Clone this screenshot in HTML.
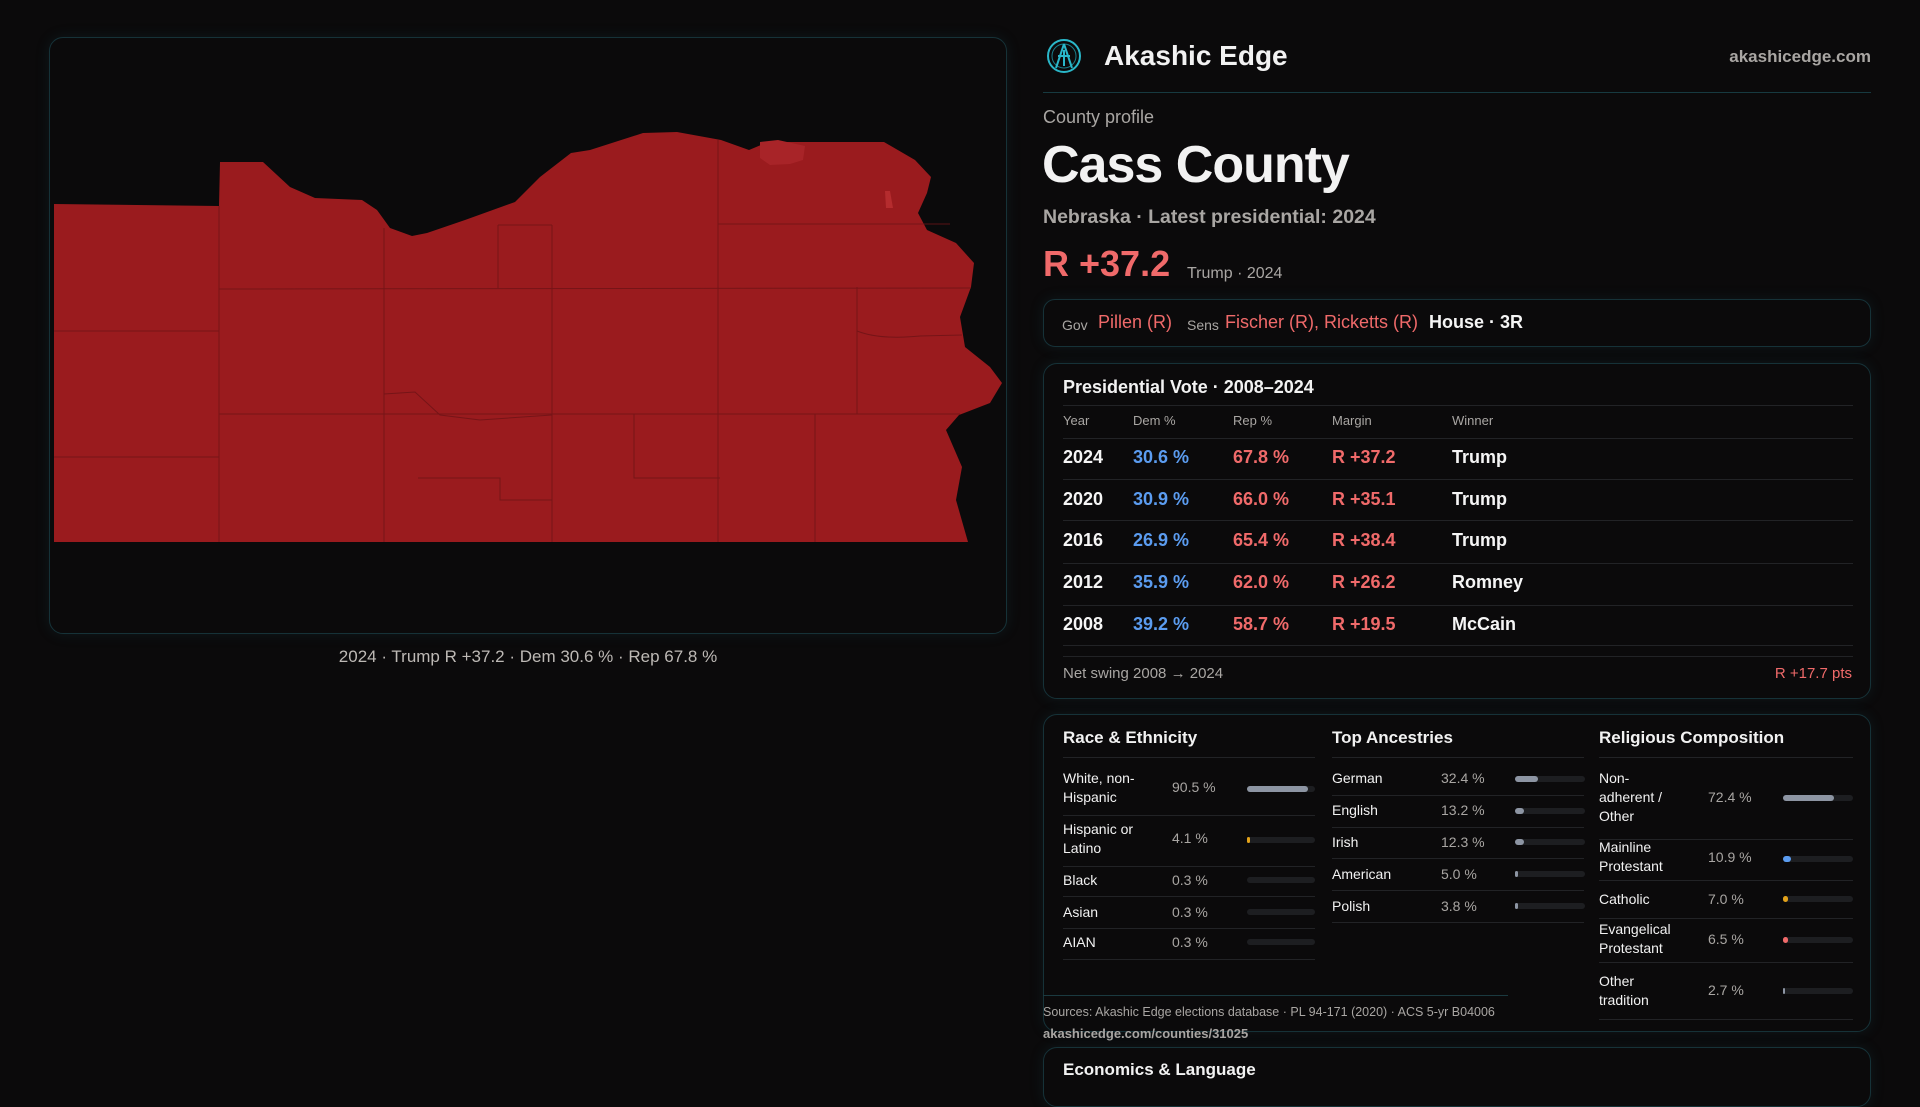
<!DOCTYPE html>
<html><head><meta charset="utf-8"><style>
*{margin:0;padding:0;box-sizing:border-box}
body{width:1920px;height:1080px;background:#0b0a0b;font-family:"Liberation Sans",sans-serif;color:#f2f2f2;position:relative;overflow:hidden}
.a{position:absolute;white-space:nowrap;line-height:1}
.box{position:absolute;border:1px solid #163238;border-radius:14px;background:#0b0a0b;box-shadow:0 0 14px rgba(30,90,100,0.18)}
.ln{position:absolute;height:1px;background:#222326}
.g{color:#a9a6a3}.r{color:#f06a6a}.b{color:#5b9cf0}.w{color:#f5f5f5}
.bar{position:absolute;height:6px;border-radius:3px;background:#1d1e21}
.bar i{position:absolute;left:0;top:0;height:6px;border-radius:3px}
</style></head><body>
<div class="box" style="left:49px;top:37px;width:958px;height:597px"></div>
<svg class="a" style="left:0;top:0" width="1020" height="560">
<path fill="#9a1b1e" d="M54 204 L219 206 L220 162 L263 162 L290 187 L315 198 L362 200 L377 210 L390 228 L412 236 L427 233 L465 220 L515 202 L540 177 L571 153 L590 150 L643 133 L677 132 L721 140 L749 150 L768 142 L884 142 L915 160 L931 177 L927 193 L918 213 L927 230 L956 243 L974 263 L971 287 L960 317 L965 347 L990 367 L1002 383 L990 403 L959 415 L946 430 L962 467 L956 500 L968 542 L54 542 Z"/>
<path fill="#a82428" d="M760 142 L778 140 L805 146 L803 160 L790 164 L770 165 L760 158 Z"/>
<path fill="#b52c2e" d="M885 191 L890 191 L893 208 L886 208 Z"/>
<g stroke="#6e1316" stroke-width="1" fill="none" opacity="0.8">
<path d="M219 206 L219 542 M384 228 L384 542 M552 225 L552 542 M718 140 L718 542 M857 287 L857 414 M815 414 L815 542"/>
<path d="M219 289 L971 288 M54 331 L219 331 M54 457 L219 457 M219 414 L960 414 M857 331 Q880 340 920 336 L962 335"/>
<path d="M498 225 L552 225 M498 225 L498 288 M718 224 L950 224 M384 394 L415 392 L440 415 L480 420 L552 415"/>
<path d="M634 414 L634 478 L720 478 M418 478 L500 478 L500 500 L552 500 L552 478"/>
</g>
</svg>
<div class="a" style="left:0;width:1056px;top:648px;text-align:center;font-size:17px;color:#bdb9b5">2024 · Trump R +37.2 · Dem 30.6 % · Rep 67.8 %</div>

<svg class="a" style="left:1046px;top:38px" width="36" height="36" viewBox="0 0 36 36"><circle cx="18" cy="18" r="16" fill="none" stroke="#2ab7c9" stroke-width="2"/><circle cx="18" cy="18" r="12" fill="none" stroke="#1a7d8a" stroke-width="1"/><path d="M18 6 L10 30 M18 6 L26 30 M12 18 L24 18 M18 12 L18 28" stroke="#2ab7c9" stroke-width="2" fill="none"/></svg>
<div class="a" style="left:1104px;top:42px;font-size:28px;font-weight:bold">Akashic Edge</div>
<div class="a g" style="right:49px;top:48px;font-size:17px;font-weight:bold">akashicedge.com</div>
<div class="ln" style="left:1043px;top:92px;width:828px;background:#173a40"></div>
<div class="a g" style="left:1043px;top:108px;font-size:18px">County profile</div>
<div class="a" style="left:1042px;top:139px;font-size:52px;font-weight:bold;letter-spacing:-1px">Cass County</div>
<div class="a g" style="left:1043px;top:208px;font-size:19.5px;font-weight:bold">Nebraska · Latest presidential: 2024</div>
<div class="a r" style="left:1043px;top:246px;font-size:36px;font-weight:bold">R +37.2</div>
<div class="a g" style="left:1187px;top:266px;font-size:16px">Trump · 2024</div>

<div class="box" style="left:1043px;top:299px;width:828px;height:48px;border-radius:12px"></div>
<div class="a g" style="left:1062px;top:318px;font-size:14px">Gov</div>
<div class="a r" style="left:1098px;top:313px;font-size:18px">Pillen (R)</div>
<div class="a g" style="left:1187px;top:318px;font-size:14px">Sens</div>
<div class="a r" style="left:1225px;top:313px;font-size:18px">Fischer (R), Ricketts (R)</div>
<div class="a w" style="left:1429px;top:313px;font-size:18px;font-weight:bold">House · 3R</div>

<div class="box" style="left:1043px;top:363px;width:828px;height:336px"></div>
<div class="a" style="left:1063px;top:378px;font-size:18px;font-weight:bold">Presidential Vote · 2008–2024</div>
<div class="ln" style="left:1063px;top:405px;width:790px"></div>
<div class="a g" style="left:1063px;top:414px;font-size:13px">Year</div>
<div class="a g" style="left:1133px;top:414px;font-size:13px">Dem %</div>
<div class="a g" style="left:1233px;top:414px;font-size:13px">Rep %</div>
<div class="a g" style="left:1332px;top:414px;font-size:13px">Margin</div>
<div class="a g" style="left:1452px;top:414px;font-size:13px">Winner</div>
<div class="ln" style="left:1063px;top:438px;width:790px"></div>
<div class="ln" style="left:1063px;top:479px;width:790px"></div>
<div class="ln" style="left:1063px;top:520px;width:790px"></div>
<div class="ln" style="left:1063px;top:563px;width:790px"></div>
<div class="ln" style="left:1063px;top:605px;width:790px"></div>
<div class="ln" style="left:1063px;top:645px;width:790px"></div>
<div class="ln" style="left:1063px;top:656px;width:790px"></div>
<div style="position:absolute;left:1063px;top:448px;font-size:18px;font-weight:bold;line-height:1">
<div class="a w" style="top:0">2024</div><div class="a b" style="left:70px">30.6 %</div><div class="a r" style="left:170px">67.8 %</div><div class="a r" style="left:269px">R +37.2</div><div class="a w" style="left:389px">Trump</div>
<div class="a w" style="top:42px">2020</div><div class="a b" style="left:70px;top:42px">30.9 %</div><div class="a r" style="left:170px;top:42px">66.0 %</div><div class="a r" style="left:269px;top:42px">R +35.1</div><div class="a w" style="left:389px;top:42px">Trump</div>
<div class="a w" style="top:83px">2016</div><div class="a b" style="left:70px;top:83px">26.9 %</div><div class="a r" style="left:170px;top:83px">65.4 %</div><div class="a r" style="left:269px;top:83px">R +38.4</div><div class="a w" style="left:389px;top:83px">Trump</div>
<div class="a w" style="top:125px">2012</div><div class="a b" style="left:70px;top:125px">35.9 %</div><div class="a r" style="left:170px;top:125px">62.0 %</div><div class="a r" style="left:269px;top:125px">R +26.2</div><div class="a w" style="left:389px;top:125px">Romney</div>
<div class="a w" style="top:167px">2008</div><div class="a b" style="left:70px;top:167px">39.2 %</div><div class="a r" style="left:170px;top:167px">58.7 %</div><div class="a r" style="left:269px;top:167px">R +19.5</div><div class="a w" style="left:389px;top:167px">McCain</div>
</div>
<div class="a g" style="left:1063px;top:666px;font-size:15px">Net swing 2008 → 2024</div>
<div class="a r" style="right:68px;top:666px;font-size:15px">R +17.7 pts</div>

<div class="box" style="left:1043px;top:714px;width:828px;height:318px"></div>
<div class="a" style="left:1063px;top:729px;font-size:17px;font-weight:bold">Race &amp; Ethnicity</div>
<div class="a" style="left:1332px;top:729px;font-size:17px;font-weight:bold">Top Ancestries</div>
<div class="a" style="left:1599px;top:729px;font-size:17px;font-weight:bold">Religious Composition</div>
<div class="ln" style="left:1063px;top:757px;width:252px"></div>
<div class="ln" style="left:1332px;top:757px;width:252px"></div>
<div class="ln" style="left:1599px;top:757px;width:254px"></div>

<div style="position:absolute;left:0;top:0;font-size:14px;line-height:19px">
<div class="a" style="left:1063px;top:769px;line-height:19px">White, non-<br>Hispanic</div><div class="a g" style="left:1172px;top:780px">90.5 %</div><div class="bar" style="left:1247px;top:786px;width:68px"><i style="width:61px;background:#8d95a3"></i></div>
<div class="ln" style="left:1063px;top:815px;width:252px"></div>
<div class="a" style="left:1063px;top:820px;line-height:19px">Hispanic or<br>Latino</div><div class="a g" style="left:1172px;top:831px">4.1 %</div><div class="bar" style="left:1247px;top:837px;width:68px"><i style="width:3px;background:#e3a21a"></i></div>
<div class="ln" style="left:1063px;top:866px;width:252px"></div>
<div class="a" style="left:1063px;top:873px">Black</div><div class="a g" style="left:1172px;top:873px">0.3 %</div><div class="bar" style="left:1247px;top:877px;width:68px"></div>
<div class="ln" style="left:1063px;top:896px;width:252px"></div>
<div class="a" style="left:1063px;top:905px">Asian</div><div class="a g" style="left:1172px;top:905px">0.3 %</div><div class="bar" style="left:1247px;top:909px;width:68px"></div>
<div class="ln" style="left:1063px;top:928px;width:252px"></div>
<div class="a" style="left:1063px;top:935px">AIAN</div><div class="a g" style="left:1172px;top:935px">0.3 %</div><div class="bar" style="left:1247px;top:939px;width:68px"></div>
<div class="ln" style="left:1063px;top:959px;width:252px"></div>

<div class="a" style="left:1332px;top:771px">German</div><div class="a g" style="left:1441px;top:771px">32.4 %</div><div class="bar" style="left:1515px;top:776px;width:70px"><i style="width:23px;background:#8d95a3"></i></div>
<div class="ln" style="left:1332px;top:795px;width:252px"></div>
<div class="a" style="left:1332px;top:803px">English</div><div class="a g" style="left:1441px;top:803px">13.2 %</div><div class="bar" style="left:1515px;top:808px;width:70px"><i style="width:9px;background:#8d95a3"></i></div>
<div class="ln" style="left:1332px;top:827px;width:252px"></div>
<div class="a" style="left:1332px;top:835px">Irish</div><div class="a g" style="left:1441px;top:835px">12.3 %</div><div class="bar" style="left:1515px;top:839px;width:70px"><i style="width:9px;background:#8d95a3"></i></div>
<div class="ln" style="left:1332px;top:858px;width:252px"></div>
<div class="a" style="left:1332px;top:867px">American</div><div class="a g" style="left:1441px;top:867px">5.0 %</div><div class="bar" style="left:1515px;top:871px;width:70px"><i style="width:3px;background:#8d95a3"></i></div>
<div class="ln" style="left:1332px;top:890px;width:252px"></div>
<div class="a" style="left:1332px;top:899px">Polish</div><div class="a g" style="left:1441px;top:899px">3.8 %</div><div class="bar" style="left:1515px;top:903px;width:70px"><i style="width:3px;background:#8d95a3"></i></div>
<div class="ln" style="left:1332px;top:922px;width:252px"></div>

<div class="a" style="left:1599px;top:769px;line-height:19px">Non-<br>adherent /<br>Other</div><div class="a g" style="left:1708px;top:790px">72.4 %</div><div class="bar" style="left:1783px;top:795px;width:70px"><i style="width:51px;background:#8d95a3"></i></div>
<div class="ln" style="left:1599px;top:839px;width:254px"></div>
<div class="a" style="left:1599px;top:838px;line-height:19px">Mainline<br>Protestant</div><div class="a g" style="left:1708px;top:850px">10.9 %</div><div class="bar" style="left:1783px;top:856px;width:70px"><i style="width:8px;background:#5b9cf0"></i></div>
<div class="ln" style="left:1599px;top:880px;width:254px"></div>
<div class="a" style="left:1599px;top:892px">Catholic</div><div class="a g" style="left:1708px;top:892px">7.0 %</div><div class="bar" style="left:1783px;top:896px;width:70px"><i style="width:5px;background:#e3a21a"></i></div>
<div class="ln" style="left:1599px;top:918px;width:254px"></div>
<div class="a" style="left:1599px;top:920px;line-height:19px">Evangelical<br>Protestant</div><div class="a g" style="left:1708px;top:932px">6.5 %</div><div class="bar" style="left:1783px;top:937px;width:70px"><i style="width:5px;background:#f06a6a"></i></div>
<div class="ln" style="left:1599px;top:962px;width:254px"></div>
<div class="a" style="left:1599px;top:972px;line-height:19px">Other<br>tradition</div><div class="a g" style="left:1708px;top:983px">2.7 %</div><div class="bar" style="left:1783px;top:988px;width:70px"><i style="width:2px;background:#8d95a3"></i></div>
<div class="ln" style="left:1599px;top:1019px;width:254px"></div>
</div>
<div class="ln" style="left:1043px;top:995px;width:465px;background:#1b3a40"></div>
<div class="a g" style="left:1043px;top:1006px;font-size:12.5px">Sources: Akashic Edge elections database · PL 94-171 (2020) · ACS 5-yr B04006</div>
<div class="a g" style="left:1043px;top:1027px;font-size:13px;font-weight:bold">akashicedge.com/counties/31025</div>

<div class="box" style="left:1043px;top:1047px;width:828px;height:60px"></div>
<div class="a" style="left:1063px;top:1061px;font-size:17px;font-weight:bold">Economics &amp; Language</div>
</body></html>
